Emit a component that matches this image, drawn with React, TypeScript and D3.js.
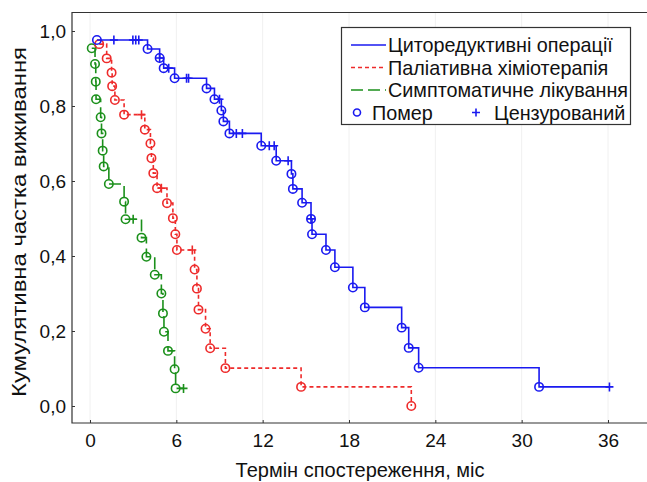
import React, { useEffect, useRef } from 'react';
import * as d3 from 'd3';

// Циторедуктивні операції
const blueTimes = [0.48, 4.0, 4.84, 5.12, 5.88, 8.1, 8.65, 9.13, 9.27, 9.69, 11.9, 12.94, 14.0, 14.1, 14.74, 15.36, 15.43, 16.4, 17.02, 18.27, 19.1, 21.66, 22.15, 22.84, 31.21];
const blueSurv = [0.976, 0.952, 0.928, 0.901, 0.874, 0.847, 0.818, 0.788, 0.759, 0.727, 0.694, 0.654, 0.619, 0.579, 0.542, 0.499, 0.458, 0.416, 0.37, 0.316, 0.263, 0.209, 0.155, 0.102, 0.051];
const blueCens = [1.66, 2.98, 3.18, 3.39, 4.84, 5.47, 6.71, 6.85, 9.0, 10.17, 10.59, 12.46, 12.8, 13.77, 15.36, 36.1];

// Паліативна хіміотерапія
const redTimes = [0.64, 1.16, 1.5, 1.54, 1.73, 2.37, 3.81, 4.2, 4.27, 4.4, 4.66, 5.35, 5.76, 5.93, 6.04, 7.27, 7.43, 7.54, 8.03, 8.35, 9.41, 14.67, 22.33];
const redSurv = [0.965, 0.927, 0.889, 0.853, 0.816, 0.777, 0.737, 0.7, 0.661, 0.621, 0.581, 0.541, 0.501, 0.458, 0.416, 0.364, 0.313, 0.257, 0.206, 0.154, 0.101, 0.051, 0.0];
const redCens = [3.58, 4.96, 7.11];

// Симптоматичне лікування
const greenTimes = [0.12, 0.35, 0.4, 0.42, 0.74, 0.8, 0.88, 0.95, 1.31, 2.37, 2.47, 3.58, 3.92, 4.5, 4.96, 5.07, 5.14, 5.42, 5.88, 5.95];
const greenSurv = [0.954, 0.912, 0.865, 0.818, 0.77, 0.727, 0.681, 0.639, 0.592, 0.545, 0.498, 0.449, 0.398, 0.35, 0.3, 0.247, 0.198, 0.147, 0.098, 0.047];
const greenCens = [3.0, 6.5];

const seriesNames = ['Циторедуктивні операції', 'Паліативна хіміотерапія', 'Симптоматичне лікування'];
const xTicks = [0, 6, 12, 18, 24, 30, 36];
const yTicks = [0, 0.2, 0.4, 0.6, 0.8, 1.0];

const colors = ['#1a1af0', '#ee2b2b', '#1b901b'];
const dashes = [null, '4,3', '12,5'];
const font = '"Liberation Sans", Arial, sans-serif';

export default function App() {
    const ref = useRef(null);

    useEffect(() => {
        const svg = d3.select(ref.current);
        svg.selectAll('*').remove();

        const left = 72, top = 12.5, bottom = 423, right = 647;
        const x = d3.scaleLinear().domain([0, 36]).range([90, 608]);
        const y = d3.scaleLinear().domain([0, 1]).range([406, 31]);

        // faint grid
        svg.append('g')
            .selectAll('line')
            .data(xTicks)
            .enter()
            .append('line')
            .attr('x1', d => x(d)).attr('x2', d => x(d))
            .attr('y1', top).attr('y2', bottom)
            .style('stroke', '#f0f0f0');

        // frame
        svg.append('path')
            .attr('d', `M${right},${top}H${left}V${bottom}H${right}`)
            .style('fill', 'none')
            .style('stroke', '#333')
            .style('stroke-width', 1.2);

        const xAxis = d3.axisBottom(x).tickValues(xTicks).tickSize(-3).tickPadding(11).tickFormat(d3.format('d'));
        const gx = svg.append('g').attr('transform', `translate(0,${bottom})`).call(xAxis);
        gx.select('.domain').remove();

        const yAxis = d3.axisLeft(y).tickValues(yTicks).tickSize(-3).tickPadding(6)
            .tickFormat(d => d3.format('.1f')(d).replace('.', ','));
        const gy = svg.append('g').attr('transform', `translate(${left},0)`).call(yAxis);
        gy.select('.domain').remove();

        svg.selectAll('.tick text')
            .style('font-family', font)
            .style('font-size', '19px')
            .style('fill', '#111');
        svg.selectAll('.tick line').style('stroke', '#333');

        const allSeries = [
            { t: blueTimes, s: blueSurv, c: blueCens },
            { t: redTimes, s: redSurv, c: redCens },
            { t: greenTimes, s: greenSurv, c: greenCens }
        ];

        const line = d3.line()
            .x(d => x(d[0]))
            .y(d => y(d[1]))
            .curve(d3.curveStepAfter);

        allSeries.slice().reverse().forEach((ser, ri) => {
            const i = 2 - ri;
            const pts = ser.t.map((t, k) => [t, ser.s[k]]);
            const lastT = ser.t[ser.t.length - 1];
            const maxC = d3.max(ser.c);
            if (maxC > lastT) pts.push([maxC, ser.s[ser.s.length - 1]]);

            const g = svg.append('g');
            g.append('path')
                .attr('d', line(pts))
                .style('fill', 'none')
                .style('stroke', colors[i])
                .style('stroke-width', 1.6)
                .style('stroke-dasharray', dashes[i]);

            g.selectAll('circle')
                .data(pts.slice(0, ser.t.length))
                .enter()
                .append('circle')
                .attr('cx', d => x(d[0]))
                .attr('cy', d => y(d[1]))
                .attr('r', 4.2)
                .style('fill', 'none')
                .style('stroke', colors[i])
                .style('stroke-width', 1.6);

            const level = c => {
                const k = d3.bisectRight(ser.t, c) - 1;
                return k < 0 ? 1 : ser.s[k];
            };
            g.selectAll('path.cens')
                .data(ser.c)
                .enter()
                .append('path')
                .attr('class', 'cens')
                .attr('d', c => `M${x(c) - 4},${y(level(c))}h8M${x(c)},${y(level(c)) - 4.5}v9`)
                .style('fill', 'none')
                .style('stroke', colors[i])
                .style('stroke-width', 1.6);
        });

        // legend
        const lg = svg.append('g');
        const fs = '19.8px';
        lg.append('rect')
            .attr('x', 341.5).attr('y', 27.5).attr('width', 289).attr('height', 97)
            .style('fill', '#fff')
            .style('stroke', '#333')
            .style('stroke-width', 1.2);
        seriesNames.forEach((name, i) => {
            const cy = 45 + i * 22.5;
            lg.append('line')
                .attr('x1', 351).attr('x2', 386).attr('y1', cy).attr('y2', cy)
                .style('stroke', colors[i])
                .style('stroke-width', 1.6)
                .style('stroke-dasharray', dashes[i]);
            lg.append('text')
                .attr('x', 388).attr('y', cy + 7)
                .text(name)
                .style('font-family', font)
                .style('font-size', fs)
                .style('fill', '#111');
        });
        const cy4 = 45 + 3 * 22.5;
        lg.append('circle')
            .attr('cx', 357).attr('cy', cy4).attr('r', 3.5)
            .style('fill', 'none').style('stroke', colors[0]).style('stroke-width', 1.6);
        lg.append('text')
            .attr('x', 372).attr('y', cy4 + 7).text('Помер')
            .style('font-family', font).style('font-size', fs).style('fill', '#111');
        lg.append('path')
            .attr('d', `M472,${cy4}h8M476,${cy4 - 4}v8`)
            .style('stroke', colors[0]).style('stroke-width', 1.6);
        lg.append('text')
            .attr('x', 494).attr('y', cy4 + 7).text('Цензурований')
            .style('font-family', font).style('font-size', fs).style('fill', '#111');

        // axis titles
        svg.append('text')
            .attr('x', 360).attr('y', 477)
            .attr('text-anchor', 'middle')
            .text('Термін спостереження, міс')
            .style('font-family', font).style('font-size', '20px').style('fill', '#111');
        svg.append('text')
            .attr('transform', 'translate(26,222) rotate(-90)')
            .attr('text-anchor', 'middle')
            .attr('textLength', 350)
            .attr('lengthAdjust', 'spacingAndGlyphs')
            .text('Кумулятивна частка виживання')
            .style('font-family', font).style('font-size', '20px').style('fill', '#111');
    }, []);

    return (
        <svg ref={ref} width={647} height={482}
            style={{ position: 'absolute', left: 0, top: 0, display: 'block', background: '#fff' }} />
    );
}
